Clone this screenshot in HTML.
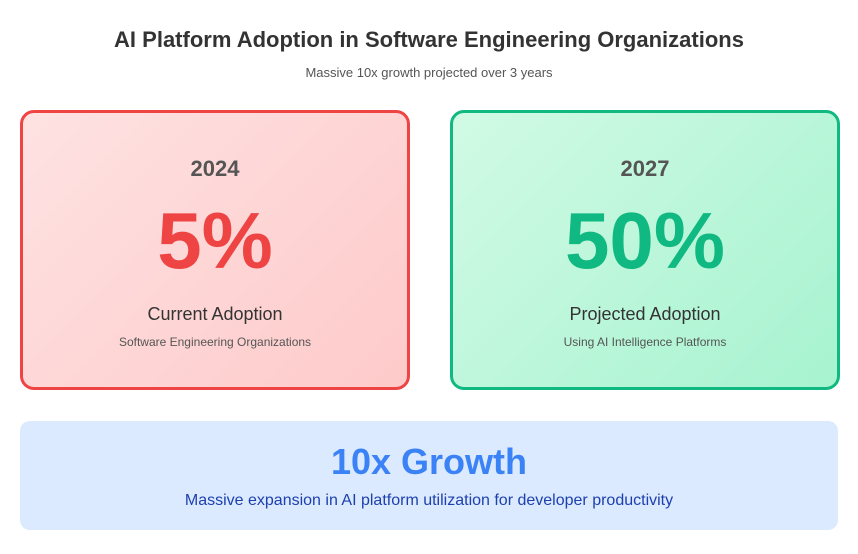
<!DOCTYPE html>
<html><head><meta charset="utf-8"><style>
*{margin:0;padding:0;box-sizing:border-box}
body{width:858px;height:554px;background:#fff;font-family:"Liberation Sans",Arial,sans-serif;position:relative;overflow:hidden}
.abs{position:absolute;left:0;right:0;text-align:center;white-space:nowrap}
.card{position:absolute;top:110px;width:390px;height:280px;border-radius:14px;border:3px solid}
.card .t{position:absolute;left:0;right:0;text-align:center;white-space:nowrap}
.yr{top:43px;font-size:22px;font-weight:bold;color:#555;}
.big{top:88px;font-size:80px;font-weight:bold;line-height:1}
.lab{top:191px;font-size:18px;color:#333}
.sub{top:222px;font-size:12px;color:#555}
</style></head><body>
<div class="abs" style="top:27px;font-size:22px;font-weight:bold;color:#333">AI Platform Adoption in Software Engineering Organizations</div>
<div class="abs" style="top:65px;font-size:13px;color:#555">Massive 10x growth projected over 3 years</div>

<div class="card" style="left:20px;border-color:#ef4444;background:linear-gradient(135deg,#fee2e2,#fecaca)">
<div class="t yr">2024</div>
<div class="t big" style="color:#ef4444">5%</div>
<div class="t lab">Current Adoption</div>
<div class="t sub">Software Engineering Organizations</div>
</div>

<div class="card" style="left:450px;border-color:#10b981;background:linear-gradient(135deg,#d1fae5,#a7f3d0)">
<div class="t yr">2027</div>
<div class="t big" style="color:#10b981">50%</div>
<div class="t lab">Projected Adoption</div>
<div class="t sub">Using AI Intelligence Platforms</div>
</div>

<div style="position:absolute;left:20px;top:421px;width:818px;height:109px;border-radius:10px;background:#dbeafe">
<div class="abs" style="top:20px;font-size:36px;font-weight:bold;color:#3b82f6">10x Growth</div>
<div class="abs" style="top:71px;font-size:16px;color:#1e40af">Massive expansion in AI platform utilization for developer productivity</div>
</div>
</body></html>
